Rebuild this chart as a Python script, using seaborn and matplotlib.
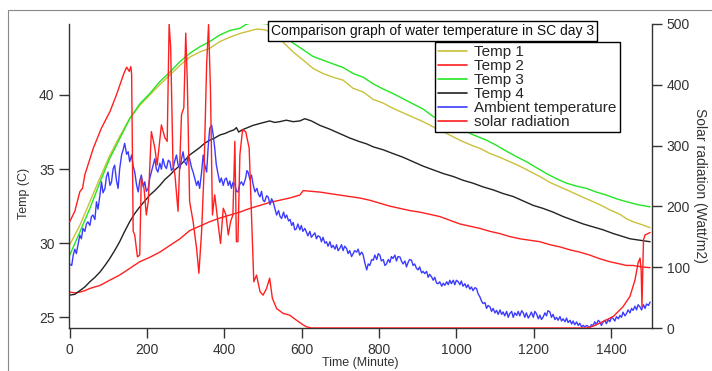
import matplotlib
matplotlib.use('Agg')
import matplotlib.pyplot as plt
import seaborn as sns
import pandas as pd
from matplotlib.lines import Line2D
from matplotlib.patches import Rectangle

sns.set_style('ticks')
plt.rcParams['font.family'] = ['Liberation Sans', 'DejaVu Sans']

# ---------------- data ----------------
t1_time = [0, 26, 52, 78, 103, 129, 155, 181, 207, 233, 259, 285, 310, 336, 362, 388, 414, 440, 462, 483,
           505, 526, 552, 578, 604, 629, 655, 681, 707, 733, 759, 785, 811, 836, 862, 888, 914, 940, 975, 1013,
           1040, 1061, 1087, 1112, 1138, 1164, 1190, 1216, 1242, 1268, 1294, 1319, 1345, 1371, 1397, 1423, 1440,
           1457, 1480, 1501]
t1_vals = [29.9, 31.2, 32.8, 34.4, 35.9, 37.2, 38.4, 39.3, 40.0, 40.7, 41.35, 42.0, 42.55, 42.9, 43.15, 43.6,
           43.9, 44.15, 44.3, 44.45, 44.4, 44.15, 43.55, 42.9, 42.35, 41.8, 41.45, 41.2, 41.0, 40.45, 40.2, 39.7,
           39.45, 39.1, 38.8, 38.5, 38.2, 37.85, 37.4, 36.9, 36.6, 36.4, 36.05, 35.8, 35.5, 35.2, 34.85, 34.5,
           34.1, 33.8, 33.5, 33.2, 32.9, 32.6, 32.25, 31.95, 31.65, 31.45, 31.25, 31.05]

t3_time = [0, 26, 52, 78, 103, 129, 155, 181, 207, 233, 259, 285, 310, 336, 362, 388, 414, 440, 455, 466,
           492, 510, 526, 552, 578, 604, 629, 655, 681, 707, 733, 759, 785, 811, 836, 862, 888, 914, 940, 975,
           1013, 1040, 1078, 1104, 1130, 1155, 1181, 1207, 1233, 1259, 1285, 1311, 1337, 1362, 1388, 1414, 1440,
           1470, 1501]
t3_vals = [29.2, 30.75, 32.35, 34.1, 35.7, 37.05, 38.4, 39.4, 40.1, 40.9, 41.55, 42.25, 42.8, 43.25, 43.6,
           44.05, 44.35, 44.5, 44.75, 44.85, 44.85, 44.8, 44.5, 44.0, 43.5, 43.05, 42.6, 42.35, 42.1, 41.85,
           41.45, 41.2, 40.75, 40.4, 40.1, 39.75, 39.4, 39.05, 38.55, 38.1, 37.7, 37.35, 36.95, 36.6, 36.2,
           35.85, 35.5, 35.1, 34.7, 34.35, 34.05, 33.85, 33.7, 33.45, 33.25, 33.0, 32.8, 32.6, 32.45]

t4_time = [0, 13, 26, 39, 52, 65, 78, 91, 103, 116, 129, 142, 155, 168, 181, 194, 207, 220, 233, 246, 259,
           272, 285, 298, 310, 323, 336, 349, 362, 375, 388, 401, 414, 425, 431, 437, 446, 460, 474, 495, 517,
           530, 543, 560, 578, 595, 608, 625, 647, 672, 698, 724, 750, 768, 785, 811, 836, 862, 888, 914, 940,
           966, 992, 1017, 1043, 1069, 1095, 1121, 1147, 1173, 1199, 1224, 1250, 1276, 1302, 1328, 1354, 1380,
           1406, 1431, 1449, 1475, 1501]
t4_vals = [26.5, 26.55, 26.8, 27.05, 27.4, 27.7, 28.05, 28.5, 28.95, 29.5, 30.1, 30.8, 31.45, 32.0, 32.45,
           32.85, 33.25, 33.55, 33.9, 34.3, 34.6, 34.95, 35.25, 35.6, 35.95, 36.2, 36.45, 36.75, 36.95, 37.1,
           37.3, 37.4, 37.55, 37.65, 37.8, 37.5, 37.65, 37.8, 37.95, 38.1, 38.25, 38.15, 38.2, 38.3, 38.2,
           38.25, 38.4, 38.25, 37.95, 37.7, 37.4, 37.1, 36.85, 36.7, 36.5, 36.3, 36.05, 35.8, 35.5, 35.2, 34.95,
           34.7, 34.5, 34.25, 34.05, 33.8, 33.6, 33.35, 33.15, 32.85, 32.55, 32.35, 32.1, 31.8, 31.55, 31.3,
           31.1, 30.9, 30.65, 30.45, 30.3, 30.2, 30.1]

t2_time = [0, 13, 26, 39, 52, 78, 103, 129, 155, 181, 207, 233, 259, 285, 310, 336, 362, 388, 414, 440, 466,
           492, 517, 543, 569, 595, 604, 625, 647, 672, 698, 724, 750, 776, 802, 828, 854, 880, 905, 931, 957,
           983, 1009, 1035, 1061, 1087, 1112, 1138, 1164, 1190, 1216, 1242, 1268, 1294, 1319, 1345, 1371, 1397,
           1423, 1440, 1457, 1480, 1501]
t2_vals = [26.7, 26.65, 26.7, 26.8, 26.95, 27.15, 27.5, 27.85, 28.3, 28.75, 29.05, 29.4, 29.85, 30.3, 30.85,
           31.15, 31.45, 31.7, 31.9, 32.1, 32.35, 32.55, 32.75, 32.9, 33.05, 33.25, 33.55, 33.5, 33.45, 33.35,
           33.25, 33.15, 33.05, 32.9, 32.7, 32.5, 32.35, 32.2, 32.1, 31.95, 31.8, 31.55, 31.3, 31.15, 31.0,
           30.8, 30.65, 30.45, 30.3, 30.2, 30.1, 29.9, 29.75, 29.55, 29.4, 29.2, 28.95, 28.75, 28.6, 28.5,
           28.5, 28.4, 28.35]

amb_time = [0, 5, 9, 13, 17, 21, 26, 30, 34, 39, 43, 47, 52, 56, 60, 65, 69, 73, 78, 82, 86, 91, 95, 99,
            104, 108, 112, 116, 121, 125, 129, 134, 138, 142, 147, 151, 155, 160, 164, 168, 173, 177, 181, 185,
            190, 194, 198, 203, 207, 211, 216, 220, 224, 228, 233, 237, 241, 246, 250, 255, 259, 263, 267, 272,
            276, 280, 285, 289, 293, 297, 302, 306, 310, 315, 319, 324, 328, 332, 336, 341, 345, 349, 354, 358,
            362, 367, 371, 375, 379, 384, 388, 392, 397, 401, 405, 410, 414, 418, 422, 427, 431, 435, 440, 444,
            449, 455, 458, 461, 466, 470, 474, 479, 484, 488, 492, 496, 500, 504, 509, 513, 518, 522, 526, 531,
            535, 540, 544, 548, 553, 557, 561, 566, 570, 574, 578, 582, 586, 590, 595, 599, 603, 608, 612, 616,
            621, 625, 629, 634, 638, 642, 647, 651, 655, 660, 664, 668, 673, 677, 681, 686, 690, 694, 698, 703,
            707, 711, 716, 720, 724, 729, 733, 737, 742, 746, 750, 755, 759, 763, 768, 772, 776, 781, 785, 789,
            794, 798, 802, 806, 811, 815, 819, 824, 828, 832, 836, 841, 845, 849, 854, 858, 862, 867, 871, 875,
            879, 884, 888, 892, 897, 901, 905, 910, 914, 918, 923, 927, 931, 936, 940, 944, 949, 953, 957, 962,
            966, 970, 975, 979, 983, 987, 992, 996, 1000, 1005, 1009, 1013, 1017, 1022, 1026, 1030, 1035, 1039,
            1043, 1048, 1052, 1056, 1061, 1065, 1069, 1074, 1078, 1082, 1087, 1091, 1095, 1100, 1104, 1108, 1113,
            1117, 1121, 1125, 1130, 1134, 1138, 1143, 1147, 1151, 1156, 1160, 1164, 1169, 1173, 1177, 1181, 1186,
            1190, 1194, 1199, 1203, 1207, 1212, 1216, 1220, 1224, 1229, 1233, 1237, 1242, 1246, 1250, 1255, 1259,
            1263, 1268, 1272, 1276, 1281, 1285, 1289, 1294, 1298, 1302, 1306, 1311, 1315, 1319, 1324, 1328, 1332,
            1337, 1341, 1345, 1349, 1354, 1358, 1362, 1367, 1371, 1375, 1380, 1384, 1388, 1393, 1397, 1401, 1406,
            1410, 1414, 1419, 1423, 1427, 1431, 1436, 1440, 1444, 1449, 1453, 1457, 1462, 1466, 1470, 1475, 1479,
            1484, 1488, 1492, 1497, 1501]
amb_vals = [28.6, 28.5, 29.2, 29.6, 29.3, 29.86, 30.54, 30.3, 31.0, 30.8, 31.3, 31.44, 31.2, 31.8, 31.9, 31.6,
            32.8, 32.3, 33.24, 34.14, 33.4, 33.7, 34.5, 34.8, 33.9, 34.14, 35.0, 35.27, 34.2, 33.7, 35.0, 35.95,
            36.3, 36.74, 36.0, 36.17, 35.5, 35.95, 35.2, 34.8, 33.9, 33.46, 34.2, 34.6, 33.8, 34.14, 33.5, 33.7,
            34.4, 34.8, 35.3, 35.7, 35.0, 34.8, 35.4, 35.0, 35.7, 35.2, 35.04, 35.6, 35.5, 34.9, 35.04, 35.6,
            35.95, 35.3, 35.04, 35.7, 36.17, 35.5, 35.27, 35.9, 35.7, 35.1, 34.8, 34.3, 33.9, 34.2, 33.7, 34.8,
            35.95, 35.3, 34.8, 36.5, 37.75, 37.97, 37.3, 36.4, 35.3, 34.6, 34.1, 34.4, 33.9, 34.3, 34.4, 33.9,
            34.2, 33.7, 34.1, 34.0, 33.5, 33.46, 34.0, 34.14, 33.9, 34.4, 34.9, 34.8, 34.3, 34.6, 34.0, 33.46,
            33.7, 33.3, 33.13, 33.5, 32.9, 32.8, 33.2, 33.13, 32.6, 33.0, 32.8, 32.3, 31.9, 32.2, 31.8, 31.67,
            32.1, 31.7, 31.9, 31.5, 31.6, 31.2, 31.4, 30.9, 30.97, 31.3, 30.9, 31.2, 30.8, 31.0, 30.76, 30.5,
            30.8, 30.4, 30.54, 30.7, 30.3, 30.5, 30.43, 30.1, 30.4, 30.0, 30.1, 29.8, 30.1, 29.7, 29.86, 29.6,
            29.9, 29.5, 29.64, 29.9, 29.5, 29.8, 29.64, 29.3, 29.5, 29.1, 29.3, 29.5, 29.4, 29.6, 29.2, 29.4,
            29.2, 28.7, 28.2, 28.6, 28.5, 28.9, 28.85, 29.2, 28.9, 29.3, 29.2, 28.8, 28.9, 28.5, 28.6, 28.9,
            28.7, 29.1, 28.97, 29.2, 28.8, 29.1, 29.07, 28.8, 28.6, 28.8, 28.4, 28.7, 28.9, 28.85, 28.5, 28.6,
            28.3, 28.2, 28.4, 28.0, 28.1, 27.95, 28.1, 27.7, 27.9, 27.72, 27.5, 27.7, 27.3, 27.27, 27.4, 27.1,
            27.3, 27.16, 27.4, 27.2, 27.5, 27.27, 27.5, 27.2, 27.5, 27.4, 27.2, 27.45, 27.1, 27.27, 27.0, 27.2,
            26.9, 27.05, 26.8, 27.0, 26.95, 26.6, 26.37, 26.1, 25.93, 26.0, 25.6, 25.8, 25.7, 25.4, 25.6, 25.3,
            25.47, 25.2, 25.5, 25.2, 25.36, 25.1, 25.4, 25.0, 25.25, 25.4, 25.0, 25.3, 25.13, 25.4, 25.1, 25.45,
            25.3, 25.0, 25.3, 24.95, 25.13, 25.35, 25.0, 25.4, 25.25, 24.9, 25.15, 24.85, 25.0, 25.3, 25.1,
            25.45, 25.36, 25.0, 25.2, 24.85, 25.0, 24.8, 25.05, 24.75, 24.9, 24.7, 24.95, 24.65, 24.8, 24.55,
            24.75, 24.5, 24.69, 24.45, 24.6, 24.35, 24.46, 24.35, 24.45, 24.39, 24.3, 24.5, 24.46, 24.7, 24.5,
            24.8, 24.69, 24.45, 24.7, 24.8, 24.57, 24.85, 24.7, 25.0, 24.9, 24.75, 25.05, 24.9, 25.13, 25.0,
            25.35, 25.1, 25.25, 25.5, 25.3, 25.6, 25.47, 25.75, 25.5, 25.85, 25.7, 25.5, 25.85, 25.6, 25.9,
            25.8, 26.03]

sol_time = [0, 13, 26, 33, 39, 61, 82, 104, 121, 139, 147, 154, 158, 160, 164, 168, 175, 181, 185, 192, 198,
            203, 211, 220, 226, 237, 246, 252, 257, 261, 267, 272, 280, 289, 295, 300, 304, 310, 319, 328, 334,
            341, 347, 354, 359, 364, 369, 375, 381, 385, 390, 397, 404, 410, 416, 422, 427, 431, 435, 440, 447,
            455, 464, 470, 476, 483, 492, 500, 509, 517, 524, 535, 552, 569, 586, 604, 612, 625, 800, 1000,
            1200, 1337, 1354, 1371, 1406, 1431, 1449, 1462, 1470, 1475, 1478, 1480, 1484, 1488, 1501]
sol_vals = [175, 192, 224, 230, 252, 296, 329, 356, 384, 417, 429, 422, 430, 417, 159, 153, 117, 120, 247,
            230, 186, 208, 323, 296, 268, 334, 313, 307, 500, 461, 268, 252, 192, 351, 362, 485, 406, 208, 175,
            131, 90, 159, 252, 433, 499, 389, 186, 219, 186, 164, 139, 197, 186, 153, 175, 186, 307, 142, 142,
            285, 326, 323, 296, 186, 76, 87, 60, 54, 65, 82, 49, 32, 24, 21, 13, 5, 2, 0, 0, 0, 0, 0, 3, 8, 19,
            35, 52, 79, 107, 115, 95, 35, 145, 153, 157]

series_names = ['Temp 1', 'Temp 2', 'Temp 3', 'Temp 4', 'Ambient temperature', 'solar radiation']
series_colors = ['#c9c13a', '#ff1f1f', '#22e622', '#222222', '#3b3bff', '#ff1f1f']

title_text = 'Comparison graph of water temperature in SC day 3'
x_ticks = [0, 200, 400, 600, 800, 1000, 1200, 1400]
left_ticks = [25, 30, 35, 40]
right_ticks = [0, 100, 200, 300, 400, 500]

# ---------------- figure ----------------
W, H = 712, 371
fig = plt.figure(figsize=(W / 100, H / 100), dpi=100)
fig.patch.set_facecolor('white')
ax = fig.add_axes([69 / W, 1 - 328 / H, 583 / W, 304 / H])
ax2 = ax.twinx()

temp_series = [(t1_time, t1_vals, 0), (t2_time, t2_vals, 1), (t3_time, t3_vals, 2),
               (t4_time, t4_vals, 3), (amb_time, amb_vals, 4)]
for tt, vv, i in temp_series:
    df = pd.DataFrame({'t': tt, 'v': vv})
    sns.lineplot(data=df, x='t', y='v', ax=ax, color=series_colors[i], lw=1.0,
                 sort=False, estimator=None, legend=False)

dfs = pd.DataFrame({'t': sol_time, 'v': sol_vals})
sns.lineplot(data=dfs, x='t', y='v', ax=ax2, color=series_colors[5], lw=1.0,
             sort=False, estimator=None, legend=False)

ax.set_xlim(-2, 1506)
ax.set_ylim(24.28, 44.79)
ax2.set_ylim(0, 500)

ax.set_xticks(x_ticks)
ax.set_yticks(left_ticks)
ax2.set_yticks(right_ticks)

tc = '#333333'
for a in (ax, ax2):
    a.set_facecolor('none')
    for s in a.spines.values():
        s.set_color(tc)
        s.set_linewidth(1.0)
    a.spines['top'].set_visible(False)
ax.spines['right'].set_visible(False)
ax2.spines['left'].set_visible(False)
ax2.spines['bottom'].set_visible(False)

ax.tick_params(axis='both', direction='out', length=7, width=1.0, colors=tc,
               labelsize=10, pad=3.5)
ax2.tick_params(axis='y', direction='out', length=7, width=1.0, colors=tc,
                labelsize=10, pad=3.5)

ax.set_xlabel('Time (Minute)', fontsize=9, color=tc, labelpad=0.5)
ax.set_ylabel('Temp (C)', fontsize=9, color=tc, labelpad=6)
ax2.set_ylabel('Solar radiation (Watt/m2)', fontsize=10, color=tc, rotation=270,
               labelpad=12)
ax.yaxis.label.set_y(0.444)
ax2.yaxis.label.set_y(0.47)

handles = [Line2D([0], [0], color=c, lw=1.2) for c in series_colors]
leg = ax2.legend(handles, series_names, loc='upper left', bbox_to_anchor=(0.628, 0.941),
                 borderaxespad=0, fontsize=11, frameon=True, fancybox=False,
                 edgecolor='black', framealpha=1, borderpad=0.2, labelspacing=0.0,
                 handlelength=1.9, handletextpad=0.45)
leg.get_frame().set_linewidth(1.0)
leg.set_zorder(20)

ax2.text(0.623, 0.977, title_text, transform=ax2.transAxes, ha='center', va='center',
         fontsize=10, color='#111111', zorder=21,
         bbox=dict(boxstyle='square,pad=0.2', fc='white', ec='black', lw=1.0))

fig.patches.append(Rectangle((8 / W, -0.05), 1.1, 1 - 10 / H + 0.05, transform=fig.transFigure,
                             fill=False, ec='#888888', lw=0.8))

fig.savefig('out.png', dpi=100)
